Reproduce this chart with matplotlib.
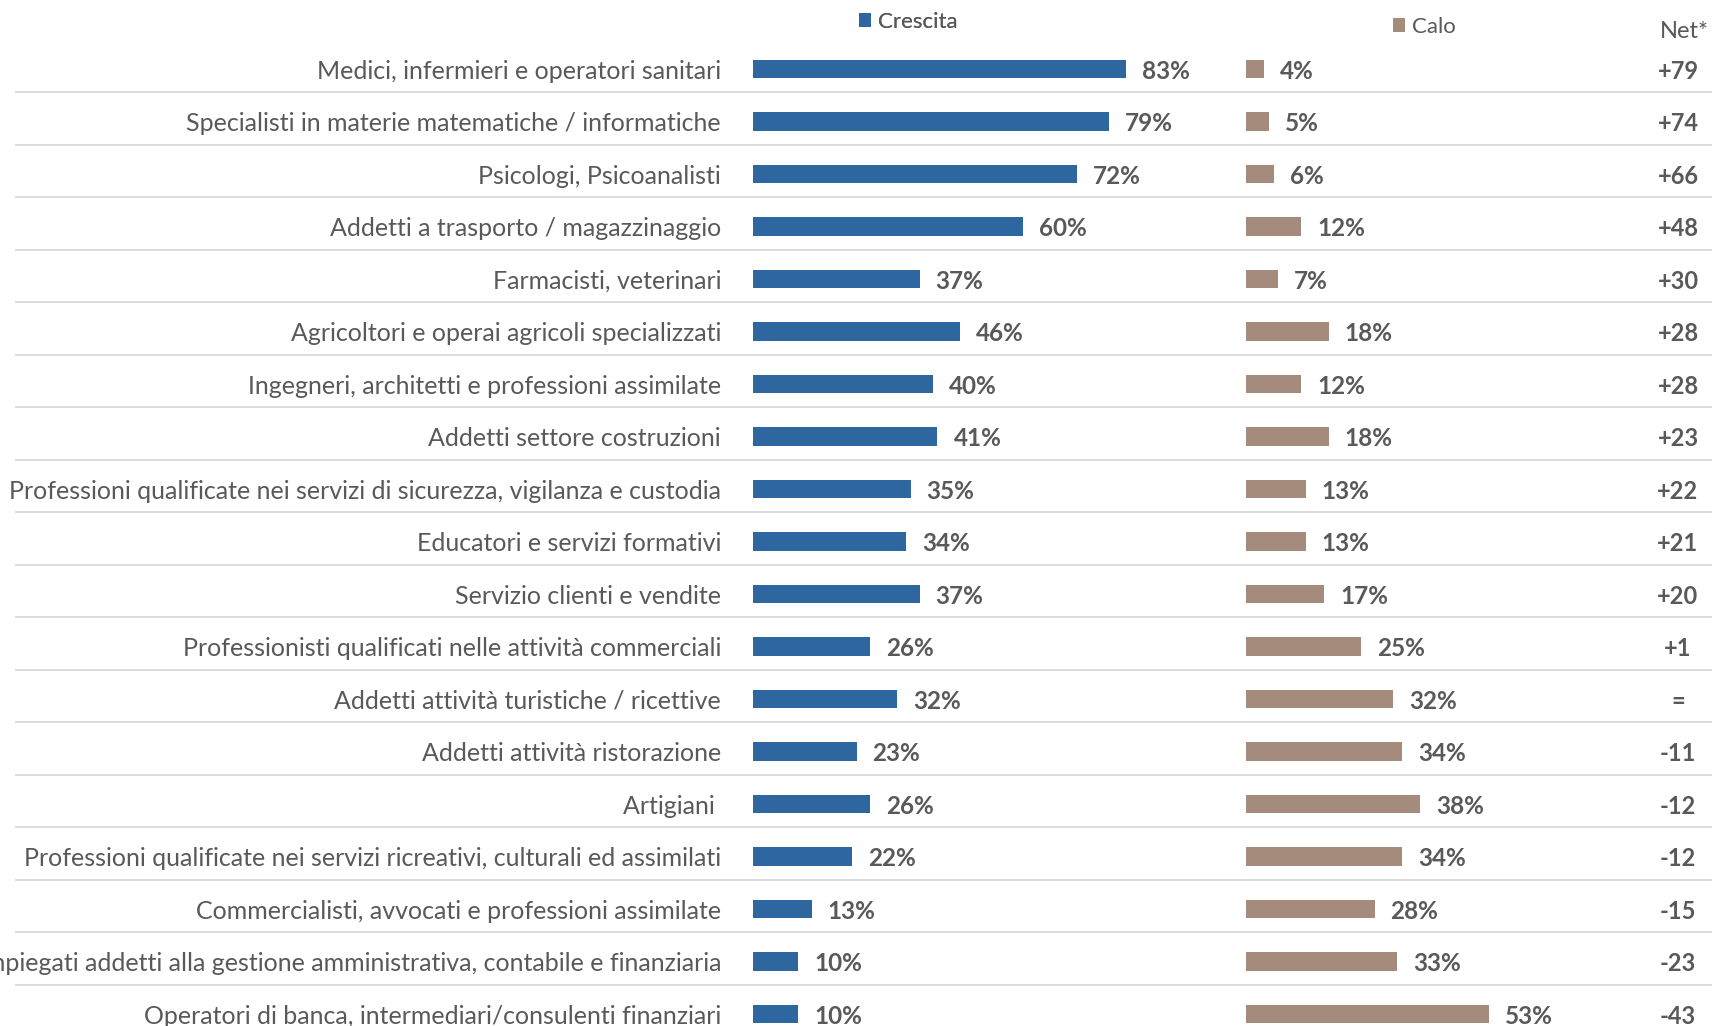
import matplotlib
matplotlib.use("Agg")
import matplotlib.pyplot as plt
import matplotlib.transforms as mtransforms

plt.rcParams['font.family'] = ['Lato', 'DejaVu Sans']

categories = [
    "Medici, infermieri e operatori sanitari",
    "Specialisti in materie matematiche / informatiche",
    "Psicologi, Psicoanalisti",
    "Addetti a trasporto / magazzinaggio",
    "Farmacisti, veterinari",
    "Agricoltori e operai agricoli specializzati",
    "Ingegneri, architetti e professioni assimilate",
    "Addetti settore costruzioni",
    "Professioni qualificate nei servizi di sicurezza, vigilanza e custodia",
    "Educatori e servizi formativi",
    "Servizio clienti e vendite",
    "Professionisti qualificati nelle attività commerciali",
    "Addetti attività turistiche / ricettive",
    "Addetti attività ristorazione",
    "Artigiani ",
    "Professioni qualificate nei servizi ricreativi, culturali ed assimilati",
    "Commercialisti, avvocati e professioni assimilate",
    "Impiegati addetti alla gestione amministrativa, contabile e finanziaria",
    "Operatori di banca, intermediari/consulenti finanziari",
]
crescita = [83, 79, 72, 60, 37, 46, 40, 41, 35, 34, 37, 26, 32, 23, 26, 22, 13, 10, 10]
calo = [4, 5, 6, 12, 7, 18, 12, 18, 13, 13, 17, 25, 32, 34, 38, 34, 28, 33, 53]
net = ["+79", "+74", "+66", "+48", "+30", "+28", "+28", "+23", "+22", "+21", "+20",
       "+1", "=", "-11", "-12", "-12", "-15", "-23", "-43"]

BLUE = "#2E67A0"
BROWN = "#A58B7B"
TXT = "#595959"
LINE = "#D9D9D9"

W, H = 1712, 1026
fig = plt.figure(figsize=(W / 100, H / 100), dpi=100)

n = len(categories)
row_h = 52.5
top_center = 69
ax_top = top_center - row_h / 2
ax_h = n * row_h
bottom = (H - (ax_top + ax_h)) / H
height = ax_h / H

# background axes for separators and net column
ax_bg = fig.add_axes([15 / W, bottom, 1 - 15 / W, height])
ax_bg.set_ylim(n - 0.5, -0.5)
ax_bg.set_xlim(0, 1)
ax_bg.axis("off")
for i in range(n - 1):
    ax_bg.axhline(i + 0.44, color=LINE, lw=1.3, zorder=0)

# crescita axes
px_per_pct_b = 4.5
ax_b = fig.add_axes([753 / W, bottom, 100 * px_per_pct_b / W, height])
ax_b.set_xlim(0, 100)
ax_b.set_ylim(n - 0.5, -0.5)
yp = list(range(n))
bars_b = ax_b.barh(yp, crescita, height=0.36, color=BLUE, label="Crescita")
ax_b.set_yticks(yp)
ax_b.set_yticklabels(categories, fontsize=18, color=TXT)
ax_b.tick_params(axis="y", length=0, pad=23)
ax_b.set_xticks([])
for s in ax_b.spines.values():
    s.set_visible(False)
ax_b.patch.set_alpha(0)
off_b = mtransforms.offset_copy(ax_b.transData, fig=fig, x=16 * 0.72, y=-2 * 0.72, units="points")
for y, v in zip(yp, crescita):
    ax_b.text(v, y, f"{v}%", transform=off_b, ha="left", va="center",
              fontsize=17.5, fontweight="bold", color=TXT)

# calo axes
px_per_pct_c = 4.59
ax_c = fig.add_axes([1246 / W, bottom, 100 * px_per_pct_c / W, height])
ax_c.set_xlim(0, 100)
ax_c.set_ylim(n - 0.5, -0.5)
bars_c = ax_c.barh(yp, calo, height=0.36, color=BROWN, label="Calo")
ax_c.axis("off")
off_c = mtransforms.offset_copy(ax_c.transData, fig=fig, x=16 * 0.72, y=-2 * 0.72, units="points")
for y, v in zip(yp, calo):
    ax_c.text(v, y, f"{v}%", transform=off_c, ha="left", va="center",
              fontsize=17.5, fontweight="bold", color=TXT)

# net column
tr_net = mtransforms.blended_transform_factory(fig.transFigure, ax_bg.transData)
off_n = mtransforms.offset_copy(tr_net, fig=fig, x=0, y=-2 * 0.72, units="points")
for y, v in zip(yp, net):
    ax_bg.text(1678 / W, y, v, transform=off_n, ha="center", va="center",
               fontsize=17, fontweight="bold", color=TXT)
fig.text(1684 / W, 1 - 32 / H, "Net*", ha="center", va="center", fontsize=17, color=TXT)

# legends
leg1 = fig.legend(handles=[bars_b], labels=["Crescita"], loc="center left",
                  bbox_to_anchor=(859 / W, 1 - 22 / H), frameon=False, fontsize=16,
                  handlelength=0.55, handleheight=0.55, handletextpad=0.3,
                  borderpad=0, borderaxespad=0, labelcolor=TXT)
fig.add_artist(leg1)
leg2 = fig.legend(handles=[bars_c], labels=["Calo"], loc="center left",
                  bbox_to_anchor=(1393 / W, 1 - 27 / H), frameon=False, fontsize=16,
                  handlelength=0.55, handleheight=0.55, handletextpad=0.3,
                  borderpad=0, borderaxespad=0, labelcolor=TXT)

fig.savefig("out.png", dpi=100, facecolor="white")
